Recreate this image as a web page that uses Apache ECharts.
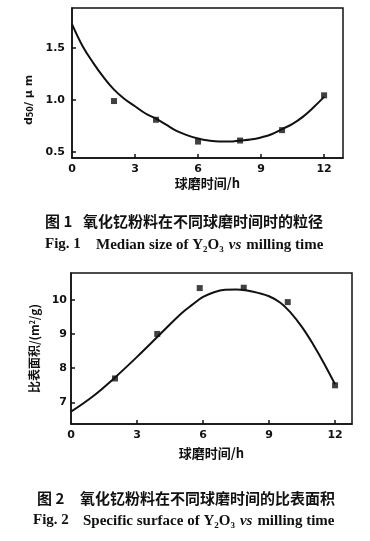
<!DOCTYPE html>
<html><head><meta charset="utf-8">
<script src="https://cdn.jsdelivr.net/npm/echarts@6/dist/echarts.min.js"></script>
<style>html,body{margin:0;padding:0;background:#fff;}#c{width:370px;height:541px;}</style>
</head><body><div id="c"></div>
<script>
const xTicks = [0, 3, 6, 9, 12];
const fig1YTicks = [0.5, 1.0, 1.5];
const fig1PointTime = [2, 4, 6, 8, 10, 12];
const fig1PointSize = [0.99, 0.81, 0.60, 0.61, 0.71, 1.045];
const fig1CurveTime = [0, 0.5, 1, 1.5, 2, 2.5, 3, 3.5, 4, 4.5, 5, 5.5, 6, 6.5, 7, 7.5, 8, 8.5, 9, 9.5, 10, 10.5, 11, 11.5, 12];
const fig1CurveSize = [1.73, 1.52, 1.36, 1.22, 1.10, 1.01, 0.94, 0.87, 0.82, 0.76, 0.70, 0.66, 0.63, 0.61, 0.60, 0.60, 0.61, 0.62, 0.64, 0.67, 0.72, 0.77, 0.84, 0.93, 1.03];
const fig2YTicks = [7, 8, 9, 10];
const fig2PointTime = [2, 3.92, 5.85, 7.85, 9.85, 12];
const fig2PointArea = [7.70, 9.0, 10.34, 10.35, 9.93, 7.50];
const fig2CurveTime = [0, 1, 2, 3, 4, 5, 5.5, 6, 6.5, 7, 7.5, 8, 8.5, 9, 9.5, 10, 10.5, 11, 11.5, 12];
const fig2CurveArea = [6.73, 7.18, 7.73, 8.33, 8.96, 9.59, 9.85, 10.08, 10.22, 10.29, 10.30, 10.27, 10.20, 10.10, 9.92, 9.61, 9.20, 8.70, 8.14, 7.53];

const ink = '#111';
const pair = (xs, ys) => xs.map((x, i) => [x, ys[i]]);
const cjk = 'Noto Sans CJK SC';
const serif = 'Liberation Serif';

function xAxisOf(gi, max, gap) {
  return {
    gridIndex: gi, type: 'value', min: 0, max: max,
    axisLine: { show: true, lineStyle: { color: ink, width: 1.5 } },
    axisTick: { show: true, inside: true, length: 4, customValues: xTicks.slice(1), lineStyle: { color: ink, width: 1.5 } },
    axisLabel: { customValues: xTicks, margin: 6, color: ink, fontFamily: 'DejaVu Sans', fontWeight: 'bold', fontSize: 11 },
    splitLine: { show: false },
    name: '球磨时间/h', nameLocation: 'middle', nameGap: gap,
    nameTextStyle: { color: ink, fontFamily: cjk, fontWeight: 'bold', fontSize: 13 }
  };
}

function figRich() {
  return {
    b: { color: ink, fontFamily: serif, fontWeight: 'bold', fontSize: 15, lineHeight: 17 },
    s: { color: ink, fontFamily: serif, fontWeight: 'bold', fontSize: 9, verticalAlign: 'bottom', lineHeight: 17 },
    i: { color: ink, fontFamily: serif, fontStyle: 'italic', fontWeight: 'bold', fontSize: 15, lineHeight: 17 }
  };
}

const option = {
  backgroundColor: '#fff',
  animation: false,
  grid: [
    { left: 72, top: 8, width: 271, height: 150, show: true, borderColor: ink, borderWidth: 1.5 },
    { left: 71, top: 273, width: 281, height: 151, show: true, borderColor: ink, borderWidth: 1.5 }
  ],
  xAxis: [xAxisOf(0, 12.9, 19), xAxisOf(1, 12.77, 23)],
  yAxis: [
    {
      gridIndex: 0, type: 'value', min: 0.442, max: 1.885,
      axisLine: { show: true, lineStyle: { color: ink, width: 1.5 } },
      axisTick: { show: true, inside: true, length: 4, customValues: fig1YTicks, lineStyle: { color: ink, width: 1.5 } },
      axisLabel: { customValues: fig1YTicks, margin: 7, color: ink, fontFamily: 'DejaVu Sans', fontWeight: 'bold', fontSize: 11, formatter: v => v.toFixed(1) },
      splitLine: { show: false },
      name: '{a|d}{s|50}{a|/ μ m}', nameLocation: 'middle', nameRotate: 90, nameGap: 28,
      nameTextStyle: {
        padding: [0, 34, 0, 0],
        rich: {
          a: { color: ink, fontFamily: 'DejaVu Sans', fontWeight: 'bold', fontSize: 11 },
          s: { color: ink, fontFamily: 'DejaVu Sans', fontWeight: 'bold', fontSize: 8, verticalAlign: 'bottom' }
        }
      }
    },
    {
      gridIndex: 1, type: 'value', min: 6.37, max: 10.78,
      axisLine: { show: true, lineStyle: { color: ink, width: 1.5 } },
      axisTick: { show: true, inside: true, length: 4, customValues: fig2YTicks, lineStyle: { color: ink, width: 1.5 } },
      axisLabel: { customValues: fig2YTicks, margin: 4, color: ink, fontFamily: 'DejaVu Sans', fontWeight: 'bold', fontSize: 11 },
      splitLine: { show: false },
      name: '{a|比表面积/(m}{p|2}{a|/g)}', nameLocation: 'middle', nameRotate: 90, nameGap: 24,
      nameTextStyle: {
        rich: {
          a: { color: ink, fontFamily: cjk, fontWeight: 'bold', fontSize: 12 },
          p: { color: ink, fontFamily: cjk, fontWeight: 'bold', fontSize: 7, verticalAlign: 'top' }
        }
      }
    }
  ],
  title: [
    { text: '图 1', left: 45, top: 213, padding: 0, textStyle: { color: ink, fontFamily: cjk, fontWeight: 'bold', fontSize: 15, lineHeight: 17 } },
    { text: '氧化钇粉料在不同球磨时间时的粒径', left: 83, top: 213, padding: 0, textStyle: { color: ink, fontFamily: cjk, fontWeight: 'bold', fontSize: 15, lineHeight: 17 } },
    { text: 'Fig. 1', left: 45, top: 236, padding: 0, textStyle: { color: ink, fontFamily: serif, fontWeight: 'bold', fontSize: 15, lineHeight: 17 } },
    { text: '{b|Median size of Y}{s|2}{b|O}{s|3} {i|vs} {b|milling time}', left: 96, top: 236, padding: 0, textStyle: { rich: figRich() } },
    { text: '图 2', left: 37, top: 490, padding: 0, textStyle: { color: ink, fontFamily: cjk, fontWeight: 'bold', fontSize: 15, lineHeight: 17 } },
    { text: '氧化钇粉料在不同球磨时间的比表面积', left: 80, top: 490, padding: 0, textStyle: { color: ink, fontFamily: cjk, fontWeight: 'bold', fontSize: 15, lineHeight: 17 } },
    { text: 'Fig. 2', left: 33, top: 512, padding: 0, textStyle: { color: ink, fontFamily: serif, fontWeight: 'bold', fontSize: 15, lineHeight: 17 } },
    { text: '{b|Specific surface of Y}{s|2}{b|O}{s|3} {i|vs} {b|milling time}', left: 83, top: 512, padding: 0, textStyle: { rich: figRich() } }
  ],
  series: [
    { type: 'line', xAxisIndex: 0, yAxisIndex: 0, data: pair(fig1CurveTime, fig1CurveSize), smooth: 0.4, showSymbol: false, symbol: 'none', lineStyle: { color: ink, width: 2 } },
    { type: 'scatter', xAxisIndex: 0, yAxisIndex: 0, data: pair(fig1PointTime, fig1PointSize), symbol: 'rect', symbolSize: 6, itemStyle: { color: ink } },
    { type: 'line', xAxisIndex: 1, yAxisIndex: 1, data: pair(fig2CurveTime, fig2CurveArea), smooth: 0.4, showSymbol: false, symbol: 'none', lineStyle: { color: ink, width: 2 } },
    { type: 'scatter', xAxisIndex: 1, yAxisIndex: 1, data: pair(fig2PointTime, fig2PointArea), symbol: 'rect', symbolSize: 6, itemStyle: { color: ink } }
  ]
};
const chart = echarts.init(document.getElementById('c'), null, { renderer: 'canvas' });
chart.setOption(option);
</script>
</body></html>
